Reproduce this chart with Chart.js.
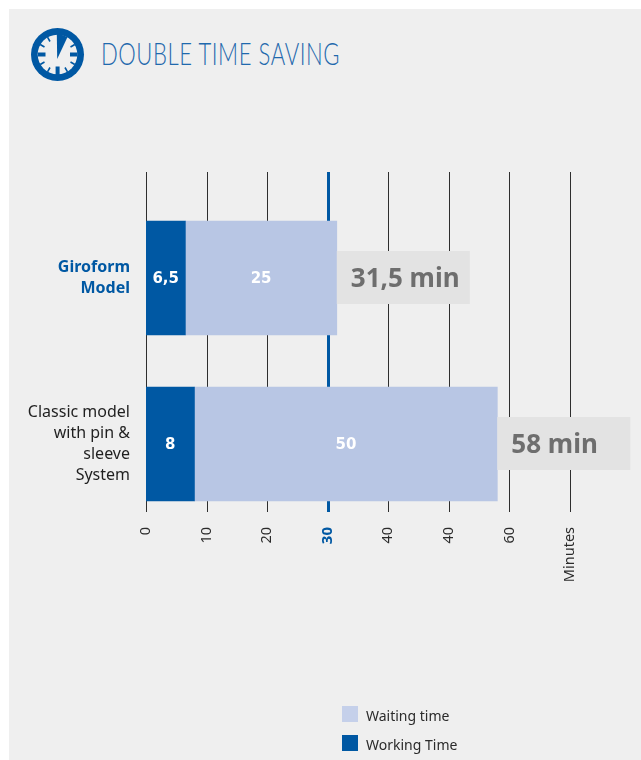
<!DOCTYPE html>
<html>
<head>
<meta charset="utf-8">
<style>
html, body { margin: 0; padding: 0; background: #fff; }
body { width: 641px; height: 760px; position: relative; overflow: hidden; font-family: "Noto Sans", sans-serif; }
#panel { position: absolute; left: 9px; top: 9px; right: 0; bottom: 0; background: #efefef; }
#logo { position: absolute; left: 31px; top: 28px; }
h1 { position: absolute; left: 100.5px; top: 34px; margin: 0; font: 300 32px/38px Lato, sans-serif; color: #1f69ad; letter-spacing: 0.8px; white-space: nowrap; transform: scaleX(0.69); transform-origin: 0 0; }
#wrap { position: absolute; left: 0; top: 0; width: 641px; height: 760px; }
#legend { position: absolute; left: 342px; top: 706px; }
#legend div { position: relative; height: 29px; padding-left: 24px; font-size: 14px; line-height: 20px; color: #2b2b2b; white-space: nowrap; }
#legend i { position: absolute; left: 0; top: 0; width: 16px; height: 16px; }
</style>
</head>
<body>
<div id="panel"></div>
<svg id="logo" width="54" height="54" viewBox="0 0 54 54">
  <circle cx="26.5" cy="26.5" r="26.5" fill="#0058a3"/>
  <circle cx="26.5" cy="26.5" r="19.8" fill="#efefef"/>
  <path d="M25.8 5 L26.2 31 L36.5 9 Z" fill="#0058a3"/>
  <path d="M7 24.6h7.5v4H7zM39 24.6h7.5v4H39zM24.6 38.5h4v8.5h-4z" fill="#0058a3"/>
  <path d="M16.5 9.2l2.5 4.3M36.5 43.8l-2.5-4.3M16.5 43.8l2.5-4.3M9.2 16.5l4.3 2.5M43.8 36.5l-4.3-2.5M9.2 36.5l4.3-2.5M43.8 16.5l-4.3 2.5" stroke="#0058a3" stroke-width="1.6"/>
</svg>
<h1>DOUBLE TIME SAVING</h1>
<div id="wrap"><canvas id="chart" width="641" height="760"></canvas></div>
<div id="legend"></div>

<script src="https://cdn.jsdelivr.net/npm/chart.js@4"></script>
<script>
var categories = [['Giroform', 'Model'], ['Classic model', 'with pin &', 'sleeve', 'System']];
var workingTime = [6.5, 8];
var waitingTime = [25, 50];
var totalLabels = ['31,5 min', '58 min'];
var tickValues = [0, 10, 20, 30, 40, 50, 60, 70];
var tickLabels = ['0', '10', '20', '30', '40', '40', '60', 'Minutes'];
var legendNames = ['Waiting time', 'Working Time'];

var BLUE = '#0058a3';
var LIGHT = '#b8c6e4';
var LEGEND_LIGHT = '#c5d0ea';

// grid lines run from 172 to 512, which isn't the chart area, so they get drawn by hand
var gridLines = {
    id: 'gridLines',
    beforeDatasetsDraw: function(chart) {
        var ctx = chart.ctx, x = chart.scales.x;
        tickValues.forEach(function(v) {
            var px = Math.round(x.getPixelForValue(v));
            ctx.save();
            ctx.beginPath();
            ctx.moveTo(px + 0.5, 172);
            ctx.lineTo(px + 0.5, 512);
            ctx.lineWidth = v === 30 ? 3 : 1;
            ctx.strokeStyle = v === 30 ? BLUE : '#2e2e2e';
            ctx.stroke();
            ctx.restore();
        });
    }
};

// white numbers inside the bars and the grey total box after each bar
var barLabels = {
    id: 'barLabels',
    afterDatasetsDraw: function(chart) {
        var ctx = chart.ctx;
        ctx.save();
        ctx.textBaseline = 'middle';
        chart.data.datasets.forEach(function(ds, d) {
            chart.getDatasetMeta(d).data.forEach(function(bar, i) {
                var c = bar.getCenterPoint();
                ctx.textAlign = 'center';
                ctx.fillStyle = '#fff';
                ctx.font = '700 15px "DejaVu Sans", sans-serif';
                ctx.fillText(String(ds.data[i]).replace('.', ','), c.x, c.y + 1);
                if (d === 1) {
                    ctx.fillStyle = '#e3e3e3';
                    ctx.fillRect(bar.x, bar.y - 27, 133, 53);
                    ctx.textAlign = 'left';
                    ctx.fillStyle = '#6e6e6e';
                    ctx.font = '700 26px "Noto Sans", sans-serif';
                    ctx.fillText(totalLabels[i], bar.x + 14, bar.y + 2);
                }
            });
        });
        ctx.restore();
    }
};

new Chart(document.getElementById('chart'), {
    type: 'bar',
    plugins: [gridLines, barLabels],
    data: {
        labels: categories,
        datasets: [
            { label: legendNames[1], data: workingTime, backgroundColor: BLUE, barThickness: 114 },
            { label: legendNames[0], data: waitingTime, backgroundColor: LIGHT, barThickness: 114 }
        ]
    },
    options: {
        indexAxis: 'y',
        responsive: false,
        animation: false,
        events: [],
        layout: { autoPadding: false, padding: { top: 195, right: 71 } },
        plugins: { legend: { display: false }, tooltip: { enabled: false } },
        scales: {
            x: {
                stacked: true,
                min: 0,
                max: 70,
                grid: { display: false, drawTicks: false },
                border: { display: false },
                afterFit: function(s) { s.height = 233; },
                afterBuildTicks: function(s) { s.ticks = tickValues.map(function(v) { return { value: v }; }); },
                ticks: {
                    autoSkip: false,
                    minRotation: 90,
                    maxRotation: 90,
                    padding: 0,
                    callback: function(v, i) { return tickLabels[i]; },
                    color: function(c) { return c.index === 3 ? BLUE : '#2b2b2b'; },
                    font: function(c) {
                        return { family: '"Noto Sans", sans-serif', size: c.index === 3 ? 15 : 14.5, weight: c.index === 3 ? '700' : '400' };
                    }
                }
            },
            y: {
                stacked: true,
                grid: { display: false, drawTicks: false },
                border: { display: false },
                afterFit: function(s) { s.width = 146; },
                ticks: {
                    padding: 16,
                    color: function(c) { return c.index === 0 ? BLUE : '#1f1f1f'; },
                    font: function(c) {
                        return { family: '"Noto Sans", sans-serif', size: 16, lineHeight: 1.31, weight: c.index === 0 ? '700' : '400' };
                    }
                }
            }
        }
    }
});

var legend = document.getElementById('legend');
[LEGEND_LIGHT, BLUE].forEach(function(col, i) {
    var row = document.createElement('div');
    row.innerHTML = '<i style="background:' + col + '"></i>' + legendNames[i];
    legend.appendChild(row);
});
</script>
</body>
</html>
